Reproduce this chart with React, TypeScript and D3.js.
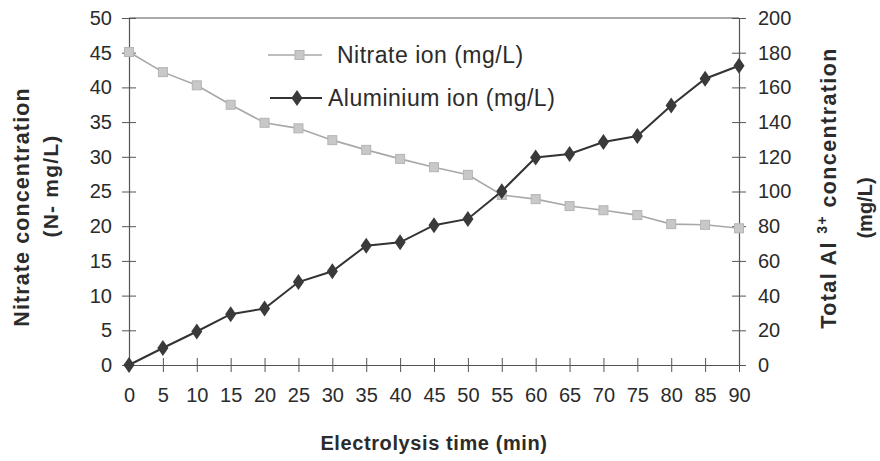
import { useEffect, useRef } from "react"
import * as d3 from "d3"

const times = [0, 5, 10, 15, 20, 25, 30, 35, 40, 45, 50, 55, 60, 65, 70, 75, 80, 85, 90]
const nitrate = [45.1, 42.2, 40.3, 37.5, 34.9, 34.1, 32.4, 31.0, 29.7, 28.5, 27.4, 24.5, 23.9, 22.9, 22.3, 21.6, 20.3, 20.2, 19.7]
const aluminium = [0, 9.8, 19.3, 29.3, 32.5, 47.8, 54, 68.8, 70.7, 80.6, 84.2, 100.2, 119.6, 121.6, 128.5, 132, 149.6, 165, 172.5]
const leftTicks = [0, 5, 10, 15, 20, 25, 30, 35, 40, 45, 50]
const rightTicks = [0, 20, 40, 60, 80, 100, 120, 140, 160, 180, 200]

const W = 880
const H = 461

export default function App() {
  const svgRef = useRef<SVGSVGElement>(null)

  useEffect(() => {
    if (!svgRef.current) return
    const svg = d3.select(svgRef.current)
    svg.selectAll("*").remove()

    const left = 129
    const right = 739
    const top = 18
    const bottom = 365
    const font = "'Liberation Sans', Arial, sans-serif"
    const ink = "#2b2b2b"

    const x = d3.scaleLinear().domain([0, 90]).range([left, right])
    const yL = d3.scaleLinear().domain([0, 50]).range([bottom, top])
    const yR = d3.scaleLinear().domain([0, 200]).range([bottom, top])

    // frame top
    svg.append("line").attr("x1", left).attr("x2", right).attr("y1", top).attr("y2", top).attr("stroke", "#555").attr("stroke-width", 1)

    const gl = svg.append("g").attr("transform", `translate(${left},0)`)
    gl.call(d3.axisLeft(yL).tickValues(leftTicks).tickSize(7).tickPadding(10).tickSizeOuter(0))
    gl.selectAll(".tick line").attr("x2", -7).attr("x1", 7)

    const gr = svg.append("g").attr("transform", `translate(${right},0)`)
    gr.call(d3.axisRight(yR).tickValues(rightTicks).tickSize(7).tickPadding(12).tickSizeOuter(0))
    gr.selectAll(".tick line").attr("x1", -7).attr("x2", 7)

    const gb = svg.append("g").attr("transform", `translate(0,${bottom})`)
    gb.call(d3.axisBottom(x).tickValues(times).tickSize(7).tickPadding(16).tickSizeOuter(0))
    gb.selectAll(".tick line").attr("y1", -7).attr("y2", 7)

    svg.selectAll(".domain").attr("stroke", "#555").attr("stroke-width", 1.2)
    svg.selectAll(".tick line").attr("stroke", "#555")
    svg.selectAll(".tick text").attr("font-family", font).attr("font-size", 20).attr("fill", ink)

    // nitrate
    const nPts = times.map((t, i) => [x(t), yL(nitrate[i])] as [number, number])
    svg.append("path").attr("d", d3.line()(nPts)).attr("fill", "none").attr("stroke", "#a8a8a8").attr("stroke-width", 1.6)
    svg.selectAll(".nm").data(nPts).enter().append("rect").attr("class", "nm")
      .attr("x", (d) => d[0] - 4.5).attr("y", (d) => d[1] - 4.5).attr("width", 9).attr("height", 9)
      .attr("fill", "#c8c8c8").attr("stroke", "#b4b4b4").attr("stroke-width", 1)

    // aluminium
    const aPts = times.map((t, i) => [x(t), yR(aluminium[i])] as [number, number])
    svg.append("path").attr("d", d3.line()(aPts)).attr("fill", "none").attr("stroke", "#333").attr("stroke-width", 2)
    const diamond = d3.symbol().type(d3.symbolDiamond).size(74)
    svg.selectAll(".am").data(aPts).enter().append("path").attr("class", "am")
      .attr("transform", (d) => `translate(${d[0]},${d[1]}) scale(1.2,1)`).attr("d", diamond())
      .attr("fill", "#3a3a3a")

    // legend
    const lg = svg.append("g")
    lg.append("line").attr("x1", 268).attr("x2", 322).attr("y1", 55).attr("y2", 55).attr("stroke", "#a8a8a8").attr("stroke-width", 1.6)
    lg.append("rect").attr("x", 295).attr("y", 50.5).attr("width", 9).attr("height", 9).attr("fill", "#c8c8c8").attr("stroke", "#b4b4b4")
    lg.append("text").attr("x", 337).attr("y", 63).attr("font-family", font).attr("font-size", 23).attr("fill", ink).attr("letter-spacing", 0.5).text("Nitrate ion (mg/L)")
    lg.append("line").attr("x1", 270).attr("x2", 322).attr("y1", 98).attr("y2", 98).attr("stroke", "#333").attr("stroke-width", 2)
    lg.append("path").attr("transform", "translate(297,98) scale(1.2,1)").attr("d", diamond()).attr("fill", "#3a3a3a")
    lg.append("text").attr("x", 328).attr("y", 106).attr("font-family", font).attr("font-size", 23).attr("fill", ink).attr("letter-spacing", 0.5).text("Aluminium ion (mg/L)")

    // axis titles
    svg.append("text").attr("transform", "translate(29,207) rotate(-90)").attr("text-anchor", "middle")
      .attr("font-family", font).attr("font-size", 21.5).attr("font-weight", "bold").attr("fill", ink).attr("letter-spacing", 1.1)
      .text("Nitrate concentration")
    svg.append("text").attr("transform", "translate(58,186) rotate(-90)").attr("text-anchor", "middle")
      .attr("font-family", font).attr("font-size", 21).attr("font-weight", "bold").attr("fill", ink).attr("letter-spacing", 1.2)
      .text("(N- mg/L)")

    const rt = svg.append("text").attr("transform", "translate(836,188) rotate(-90)").attr("text-anchor", "middle")
      .attr("font-family", font).attr("font-size", 21.5).attr("font-weight", "bold").attr("fill", ink).attr("letter-spacing", 1.4)
    rt.append("tspan").text("Total Al ")
    rt.append("tspan").attr("font-size", 14).attr("dy", -9).text("3+")
    rt.append("tspan").attr("dy", 9).text(" concentration")
    svg.append("text").attr("transform", "translate(872,208) rotate(-90)").attr("text-anchor", "middle")
      .attr("font-family", font).attr("font-size", 20).attr("font-weight", "bold").attr("fill", ink)
      .text("(mg/L)")

    svg.append("text").attr("x", 434).attr("y", 450).attr("text-anchor", "middle")
      .attr("font-family", font).attr("font-size", 20).attr("font-weight", "bold").attr("fill", ink).attr("letter-spacing", 0.6)
      .text("Electrolysis time (min)")
  }, [])

  return (
    <svg ref={svgRef} width={W} height={H} style={{ position: "absolute", left: 0, top: 0, background: "#fff" }} />
  )
}
